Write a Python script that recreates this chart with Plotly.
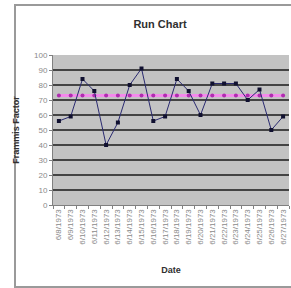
import plotly.graph_objects as go

dates = ["6/8/1973", "6/9/1973", "6/10/1973", "6/11/1973", "6/12/1973", "6/13/1973",
         "6/14/1973", "6/15/1973", "6/16/1973", "6/17/1973", "6/18/1973", "6/19/1973",
         "6/20/1973", "6/21/1973", "6/22/1973", "6/23/1973", "6/24/1973", "6/25/1973",
         "6/26/1973", "6/27/1973"]
frammis = [56, 59, 84, 76, 40, 55, 80, 91, 56, 59, 84, 76, 60, 81, 81, 81, 70, 77, 50, 59]
mean_line = [73] * len(dates)
y_ticks = [0, 10, 20, 30, 40, 50, 60, 70, 80, 90, 100]

W, H = 291, 288
ML, MR, MT, MB = 53, 2, 55, 83
PW, PH = W - ML - MR, H - MT - MB

def px(x):
    return (x - ML) / PW

def py(y):
    return (H - MB - y) / PH

FONT = "Liberation Sans Narrow, Arial Narrow, Liberation Sans, Arial, sans-serif"

fig = go.Figure()
fig.add_trace(go.Scatter(
    x=dates, y=mean_line, mode="lines+markers",
    line=dict(color="#f38aeb", width=3),
    marker=dict(color="#b02cb0", size=4, symbol="circle"),
    showlegend=False, hoverinfo="skip"))
fig.add_trace(go.Scatter(
    x=dates, y=frammis, mode="lines+markers",
    line=dict(color="#2a2a70", width=1),
    marker=dict(color="#101030", size=4, symbol="square"),
    showlegend=False))

fig.update_layout(
    width=W, height=H,
    margin=dict(l=ML, r=MR, t=MT, b=MB, pad=0),
    paper_bgcolor="white", plot_bgcolor="#c3c3c3",
    font=dict(family=FONT, color="#808080", size=8),
    title=dict(text="<b>Run Chart</b>", x=160 / W, xanchor="center", y=1 - 24 / H,
               yanchor="middle", font=dict(family=FONT, size=11, color="#303030")),
    xaxis=dict(type="category", range=[-0.5, len(dates) - 0.5], tickangle=-90,
               showgrid=False, ticks="outside", ticklen=3, tickcolor="#808080",
               tickson="boundaries", showline=True, linecolor="#808080", linewidth=1,
               tickfont=dict(size=8, color="#8a8a8a"),
               title=dict(text="<b>Date</b>", standoff=22,
                          font=dict(family=FONT, size=9, color="#303030"))),
    yaxis=dict(range=[0, 100], tickvals=y_ticks, showgrid=True, gridcolor="#444444",
               gridwidth=1.5, zeroline=False, ticks="outside", ticklen=3,
               tickcolor="#808080", showline=True, linecolor="#808080",
               tickfont=dict(size=8, color="#8a8a8a"),
               title=dict(text="<b>Frammis Factor</b>", standoff=12,
                          font=dict(family=FONT, size=9, color="#303030"))),
    shapes=[dict(type="rect", xref="paper", yref="paper",
                 x0=px(15), x1=px(310), y0=py(287), y1=py(5),
                 line=dict(color="#9a9a9a", width=2), layer="above")],
)

fig.write_html("out.html", config={"displayModeBar": False},
               post_script="document.body.style.margin='0';document.body.style.overflow='hidden';")
